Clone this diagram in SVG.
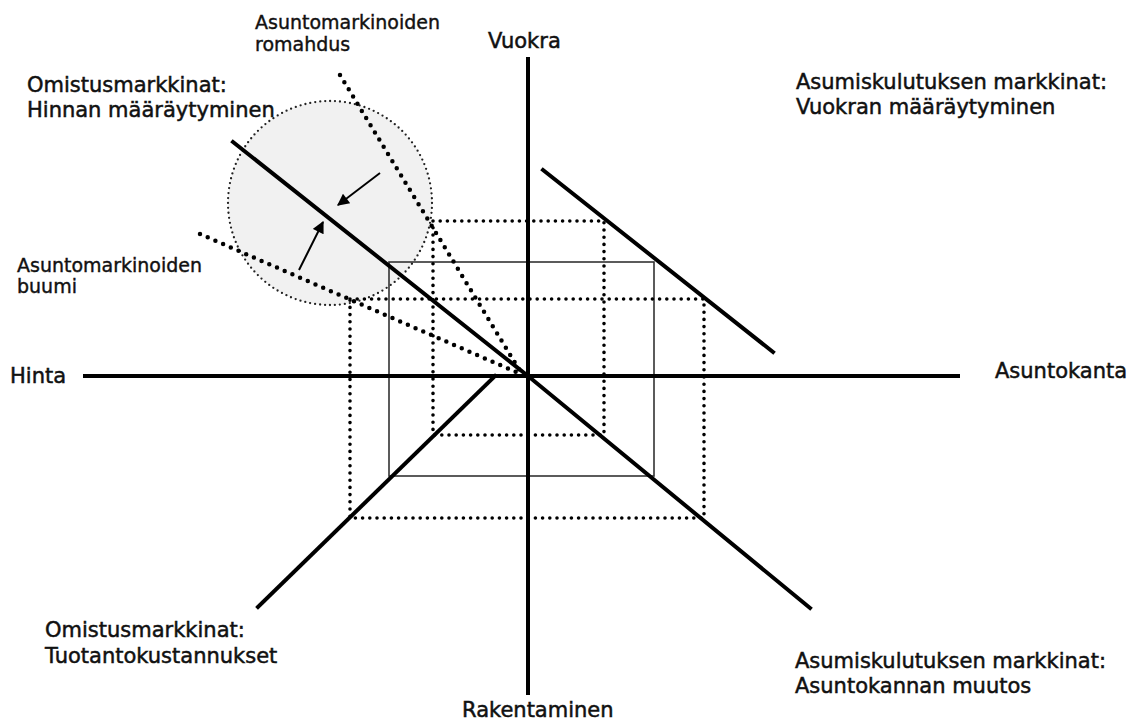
<svg xmlns="http://www.w3.org/2000/svg" width="1133" height="722" viewBox="0 0 1133 722">
<style>
.lbl{font-family:"DejaVu Sans","Liberation Sans",sans-serif;font-size:21px;fill:#111;stroke:#111;stroke-width:0.5}
.sm{font-family:"DejaVu Sans","Liberation Sans",sans-serif;font-size:19px;fill:#111;stroke:#111;stroke-width:0.4}
.axis{stroke:#000;stroke-width:4;fill:none}
.solid{stroke:#000;stroke-width:4;fill:none;stroke-linecap:square}
.thin{stroke:#333;stroke-width:1.6;fill:none}
.dot{stroke:#000;stroke-width:3.6;fill:none;stroke-dasharray:0 7.2;stroke-linecap:round}
.bigdot{stroke:#000;stroke-width:4.5;fill:none;stroke-dasharray:0 8.4;stroke-linecap:round}
.arrow{stroke:#000;stroke-width:2;fill:none;marker-end:url(#ah)}
</style>
<defs>
<marker id="ah" viewBox="0 0 10 10" refX="9" refY="5" markerWidth="7" markerHeight="6" orient="auto" markerUnits="strokeWidth">
<path d="M0,0 L10,5 L0,10 z" fill="#000"/>
</marker>
</defs>
<rect width="1133" height="722" fill="#fff"/>
<g id="bubble">
<circle cx="330" cy="203" r="102" fill="#f1f1f1" stroke="#222" stroke-width="2.3" stroke-dasharray="0 5" stroke-linecap="round"/>
</g>
<g id="connectors">
<rect class="thin" x="389" y="262" width="265" height="214"/>
<rect class="dot" x="433" y="221" width="171" height="214"/>
<rect class="dot" x="350" y="299" width="354" height="219"/>
<line class="bigdot" x1="340" y1="75" x2="520" y2="371"/>
<line class="bigdot" x1="200" y1="234" x2="516" y2="372"/>
<line class="axis" x1="83" y1="376" x2="960" y2="376"/>
<line class="axis" x1="528" y1="57" x2="528" y2="695"/>
<polyline class="solid" points="233,142 528,376 810,608"/>
<line class="solid" x1="543" y1="170" x2="773" y2="352"/>
<line class="solid" x1="258" y1="607" x2="495" y2="376"/>
<line class="arrow" x1="380" y1="173" x2="338" y2="205"/>
<line class="arrow" x1="299" y1="270" x2="323" y2="222"/>
</g>
<g id="label-vuokra"><text class="lbl" x="488" y="48">Vuokra</text></g>
<g id="label-hinta"><text class="lbl" x="10" y="383">Hinta</text></g>
<g id="label-asuntokanta"><text class="lbl" x="995" y="378">Asuntokanta</text></g>
<g id="label-rakentaminen"><text class="lbl" x="462" y="717">Rakentaminen</text></g>
<g id="label-omistus-hinta"><text class="lbl" x="27" y="92">Omistusmarkkinat:</text><text class="lbl" x="27" y="117">Hinnan määräytyminen</text></g>
<g id="label-asumis-vuokra"><text class="lbl" x="796" y="89">Asumiskulutuksen markkinat:</text><text class="lbl" x="796" y="114">Vuokran määräytyminen</text></g>
<g id="label-omistus-tuotanto"><text class="lbl" x="45" y="637">Omistusmarkkinat:</text><text class="lbl" x="45" y="663">Tuotantokustannukset</text></g>
<g id="label-asumis-muutos"><text class="lbl" x="795" y="668">Asumiskulutuksen markkinat:</text><text class="lbl" x="795" y="693">Asuntokannan muutos</text></g>
<g id="label-romahdus"><text class="sm" x="255" y="29">Asuntomarkinoiden</text><text class="sm" x="255" y="51">romahdus</text></g>
<g id="label-buumi"><text class="sm" x="17" y="272">Asuntomarkinoiden</text><text class="sm" x="17" y="293">buumi</text></g>
</svg>
